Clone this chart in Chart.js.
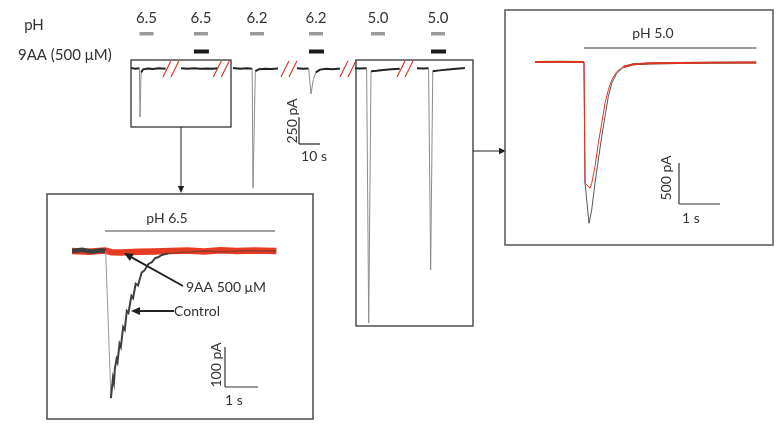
<!DOCTYPE html>
<html>
<head>
<meta charset="utf-8">
<script src="https://cdn.jsdelivr.net/npm/chart.js@4.4.1/dist/chart.umd.min.js"></script>
<style>
  html, body { margin: 0; padding: 0; background: #fff; }
  #wrap { position: relative; width: 784px; height: 437px; }
  #wrap canvas { position: absolute; left: 0; top: 0; }
</style>
</head>
<body>
<div id="wrap">
  <canvas id="mainTrace" width="784" height="437"></canvas>
  <canvas id="insetPh65" width="784" height="437"></canvas>
  <canvas id="insetPh50" width="784" height="437"></canvas>
</div>
<script>
// ===== DATA =====
const phValues = ["6.5", "6.5", "6.2", "6.2", "5.0", "5.0"];
const with9AA = [false, true, false, true, false, true];
const applyTime = [7.4, 33.3, 60, 88.1, 117.6, 146.2];   // s, on the long recording
const breakTime = [19, 43, 75.2, 103.3, 130.5];          // s, where the record is cut

// long recording (s, pA), null = cut
const mainTime = [0, 2, 4, 4.3, 4.8, 5.8, 8, 10.5, 13, 16.5, null,
    23.8, 27, 30, 33, 36, 39, 41.4, null,
    48.6, 52, 55, 57.7, 58.1, 59.2, 61, 64, 67, 70, null,
    79, 82, 84.6, 85.7, 86.8, 88, 90, 93, 96, 99.5, null,
    106.7, 109, 112.2, 113.2, 114.3, 117, 120, 124, 128, null,
    136.2, 139, 141.7, 142.7, 143.7, 147, 151, 155, 159];
const mainCurrent = [0, -6, -3, -454, -40, -12, -5, -9, -3, -6, null,
    -2, -7, -3, -8, -4, -7, -3, null,
    0, -6, -3, -7, -1111, -30, -11, -6, -9, -4, null,
    -2, -6, -4, -241, -110, -40, -15, -8, -11, -5, null,
    -2, -5, -3, -2361, -30, -25, -18, -11, -6, null,
    -2, -5, -3, -1870, -30, -22, -15, -8, 0];

// pH 6.5 inset
const ph65ControlTime = [0, 0.3, 0.6, 0.9, 1.02, 1.18, 1.24, 1.27, 1.30, 1.35, 1.38, 1.44, 1.48, 1.55, 1.60, 1.66, 1.71,
    1.80, 1.85, 1.93, 2.0, 2.11, 2.2, 2.31, 2.42, 2.52, 2.62, 2.72, 2.92, 3.4, 4.0, 4.6, 5.2, 5.8, 6.2];
const ph65ControlCurrent = [0, 3, -2, 2, 0, -368, -318, -330, -293, -270, -278, -232, -240, -190, -197, -150, -155,
    -112, -118, -82, -86, -54, -48, -33, -28, -18, -15, -10, -6, -3, 0, -2, 1, 0, 0];
const ph65DrugTime = [0, 0.5, 1.0, 1.2, 1.5, 2.0, 2.5, 3.0, 3.5, 4.0, 4.5, 5.0, 5.5, 6.2];
const ph65DrugCurrent = [0, -2, 1, -3, -4, -2, -1, 0, 1, -1, 2, 0, 1, 0];

// pH 5.0 inset
const ph50ControlTime = [0, 0.6, 1.195, 1.22, 1.317, 1.383, 1.463, 1.544, 1.627, 1.707, 1.788, 1.871, 1.993, 2.154, 2.398, 2.8, 3.5, 4.3, 5.4];
const ph50ControlCurrent = [0, 2, 0, -1475, -1967, -1805, -1479, -1195, -911, -667, -423, -260, -138, -65, -28, -18, -12, -10, -6];
const ph50DrugTime = [0, 0.6, 1.195, 1.22, 1.341, 1.383, 1.463, 1.544, 1.627, 1.707, 1.788, 1.871, 1.993, 2.154, 2.398, 2.8, 3.5, 4.3, 5.4];
const ph50DrugCurrent = [0, 2, 0, -1475, -1540, -1479, -1277, -991, -748, -504, -341, -220, -118, -57, -28, -15, -12, -8, -6];

// ===== HELPERS =====
const W = 784, H = 437;
const FONT = "Lato";
const TEXT = "#333";

function points(xs, ys) {
    return xs.map((x, i) => ({ x: x, y: ys[i] }));
}

function traceOptions(area, xRange, yRange) {
    return {
        responsive: false,
        animation: false,
        events: [],
        layout: { padding: { left: area.left, top: area.top, right: W - area.right, bottom: H - area.bottom } },
        plugins: { legend: { display: false }, tooltip: { enabled: false } },
        elements: { point: { radius: 0 }, line: { tension: 0 } },
        scales: {
            x: { type: "linear", display: false, min: xRange[0], max: xRange[1] },
            y: { display: false, min: yRange[0], max: yRange[1] }
        }
    };
}

function text(ctx, str, x, y, size, align, rotate) {
    ctx.save();
    ctx.fillStyle = TEXT;
    ctx.font = size + "px " + FONT;
    ctx.textAlign = align || "center";
    ctx.textBaseline = "middle";
    ctx.translate(x, y);
    if (rotate) ctx.rotate(-Math.PI / 2);
    ctx.fillText(str, 0, 0);
    ctx.restore();
}

function line(ctx, x1, y1, x2, y2, color, width) {
    ctx.save();
    ctx.strokeStyle = color;
    ctx.lineWidth = width;
    ctx.beginPath();
    ctx.moveTo(x1, y1);
    ctx.lineTo(x2, y2);
    ctx.stroke();
    ctx.restore();
}

function arrow(ctx, x1, y1, x2, y2, head, color, width) {
    const a = Math.atan2(y2 - y1, x2 - x1);
    const c = Math.cos(a), s = Math.sin(a);
    line(ctx, x1, y1, x2 - c * head * 0.8, y2 - s * head * 0.8, color, width);
    ctx.save();
    ctx.fillStyle = color;
    ctx.beginPath();
    ctx.moveTo(x2, y2);
    ctx.lineTo(x2 - head * c + head * 0.45 * s, y2 - head * s - head * 0.45 * c);
    ctx.lineTo(x2 - head * c - head * 0.45 * s, y2 - head * s + head * 0.45 * c);
    ctx.closePath();
    ctx.fill();
    ctx.restore();
}

function box(ctx, x1, y1, x2, y2, color, width) {
    ctx.save();
    ctx.strokeStyle = color;
    ctx.lineWidth = width;
    ctx.strokeRect(x1, y1, x2 - x1, y2 - y1);
    ctx.restore();
}

// L shaped scale bar, corner at (cx, cy), lengths from the chart's own scales
function scaleBar(chart, cx, cy, dt, dI, color) {
    const sx = chart.scales.x, sy = chart.scales.y;
    const lx = sx.getPixelForValue(dt) - sx.getPixelForValue(0);
    const ly = sy.getPixelForValue(0) - sy.getPixelForValue(dI);
    line(chart.ctx, cx, cy - ly, cx, cy, color, 1.2);
    line(chart.ctx, cx, cy, cx + lx, cy, color, 1.2);
}

// ===== MAIN RECORDING =====
const isSpike = c => Math.min(c.p0.parsed.y, c.p1.parsed.y) < -60;

new Chart(document.getElementById("mainTrace"), {
    type: "line",
    data: {
        datasets: [{
            data: points(mainTime, mainCurrent),
            spanGaps: false,
            borderColor: "#262626",
            borderWidth: 2,
            segment: {
                borderColor: c => isSpike(c) ? "#8c8c8c" : "#222",
                borderWidth: c => isSpike(c) ? 1 : 2
            }
        }]
    },
    options: traceOptions({ left: 131, right: 131 + 162 * 2.1, top: 41, bottom: 68 + 2400 * 0.108 }, [0, 162], [-2400, 250]),
    plugins: [{
        id: "mainDecor",
        afterDatasetsDraw(chart) {
            const ctx = chart.ctx, sx = chart.scales.x;

            text(ctx, "pH", 34, 25.5, 15, "center");
            text(ctx, "9AA (500 \u03bcM)", 18, 55, 15, "left");

            phValues.forEach((v, i) => {
                const px = sx.getPixelForValue(applyTime[i]);
                text(ctx, v, px, 18.5, 15, "center");
                ctx.fillStyle = "#9a9a9a";
                ctx.fillRect(px - 7, 32, 14, 3.5);
                if (with9AA[i]) {
                    ctx.fillStyle = "#1a1a1a";
                    ctx.fillRect(px - 7, 49.5, 15, 4);
                }
            });

            // record cuts
            breakTime.forEach(t => {
                const px = sx.getPixelForValue(t);
                [-4, 4].forEach(o => line(ctx, px + o - 4, 77, px + o + 4, 61, "#d43a2e", 1.2));
            });

            box(ctx, 131, 60, 231, 127, "#333", 1.3);
            box(ctx, 356, 60, 473, 326, "#333", 1.3);

            scaleBar(chart, 299, 144, 10, 250, "#222");
            text(ctx, "250 pA", 292, 121, 14, "center", true);
            text(ctx, "10 s", 314, 156, 14, "center");

            arrow(ctx, 181, 127, 181, 193, 7, "#222", 1);
            arrow(ctx, 473, 151, 506, 151, 7, "#222", 1);
        }
    }]
});

// ===== pH 6.5 INSET =====
new Chart(document.getElementById("insetPh65"), {
    type: "line",
    data: {
        datasets: [{
            label: "Control",
            order: 0,
            data: points(ph65ControlTime, ph65ControlCurrent),
            borderColor: "#444",
            segment: {
                borderColor: c => c.p1.parsed.y < c.p0.parsed.y - 100 ? "#9a9a9a"
                    : (c.p0.parsed.x > 2.9 ? "rgba(60,60,60,0.5)" : "#3e3e3e"),
                borderWidth: c => c.p1.parsed.y < c.p0.parsed.y - 100 ? 1
                    : (c.p0.parsed.x < 1.05 ? 4.5 : (c.p0.parsed.x > 2.9 ? 1.3 : 2))
            }
        }, {
            label: "9AA 500 \u03bcM",
            order: 1,
            data: points(ph65DrugTime, ph65DrugCurrent),
            borderColor: "#e53b22",
            borderWidth: 6.5
        }]
    },
    options: traceOptions({ left: 72, right: 72 + 6.2 * 33, top: 211, bottom: 411 }, [0, 6.2], [-400, 100]),
    plugins: [{
        id: "ph65Decor",
        afterDatasetsDraw(chart) {
            const ctx = chart.ctx, sx = chart.scales.x;
            box(ctx, 47, 194, 313, 419, "#4a4a4a", 1.5);
            line(ctx, sx.getPixelForValue(1.0), 231, sx.getPixelForValue(6.15), 231, "#808080", 1.3);
            text(ctx, "pH 6.5", 167, 218, 14, "center");
            arrow(ctx, 183, 286, 124, 253, 9, "#222", 2);
            text(ctx, "9AA 500 \u03bcM", 186, 287, 14, "left");
            arrow(ctx, 174, 311, 131, 311, 9, "#222", 2);
            text(ctx, "Control", 174, 311, 14, "left");
            scaleBar(chart, 225, 387, 1, 100, "#333");
            text(ctx, "100 pA", 216, 365, 14, "center", true);
            text(ctx, "1 s", 234, 400, 14, "center");
        }
    }]
});

// ===== pH 5.0 INSET =====
const isBase = c => Math.min(c.p0.parsed.y, c.p1.parsed.y) > -100;

new Chart(document.getElementById("insetPh50"), {
    type: "line",
    data: {
        datasets: [{
            label: "9AA 500 \u03bcM",
            order: 0,
            data: points(ph50DrugTime, ph50DrugCurrent),
            borderColor: "#e0341f",
            segment: { borderWidth: c => isBase(c) ? 1.8 : 1 }
        }, {
            label: "Control",
            order: 1,
            data: points(ph50ControlTime, ph50ControlCurrent),
            borderColor: "#555",
            segment: { borderWidth: c => isBase(c) ? 2 : 1 }
        }]
    },
    options: traceOptions({ left: 535, right: 535 + 5.4 * 41, top: 21, bottom: 62 + 2200 * 0.082 }, [0, 5.4], [-2200, 500]),
    plugins: [{
        id: "ph50Decor",
        afterDatasetsDraw(chart) {
            const ctx = chart.ctx, sx = chart.scales.x;
            box(ctx, 505, 10, 773, 245, "#555", 1.5);
            line(ctx, sx.getPixelForValue(1.195), 48, sx.getPixelForValue(5.4), 48, "#333", 1.1);
            text(ctx, "pH 5.0", 653, 33, 14, "center");
            scaleBar(chart, 679, 204, 1, 500, "#333");
            text(ctx, "500 pA", 666, 178, 14, "center", true);
            text(ctx, "1 s", 691, 218, 14, "center");
        }
    }]
});
</script>
</body>
</html>
